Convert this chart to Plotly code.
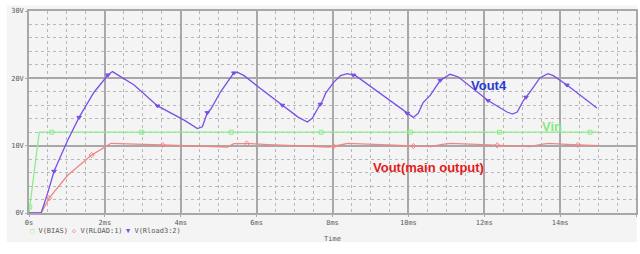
import numpy as np
import plotly.graph_objects as go

# ---------------- data (time in ms, voltage in V) ----------------
vin_t = [0, 0.27, 15.0]
vin_v = [0, 12.0, 12.0]
vin_marker_t = [0.02, 0.6, 2.97, 5.33, 7.7, 10.05, 12.4, 14.79]

vout_t = [0, 0.32, 0.53, 1.02, 1.65, 2.16, 3.03, 3.55, 4.26, 4.9, 5.23, 5.4, 5.84, 6.3,
          7.34, 7.9, 8.2, 8.4, 9.1, 10.1, 10.6, 10.85, 11.1, 11.8, 12.7, 13.2, 13.5,
          13.7, 14.3, 15.0]
vout_v = [0, 0, 2.2, 5.6, 8.6, 10.35, 10.2, 10.1, 10.0, 9.85, 9.8, 10.3, 10.3, 10.15,
          9.95, 9.8, 10.1, 10.35, 10.2, 9.95, 9.85, 10.15, 10.35, 10.2, 9.95, 9.85, 10.2,
          10.35, 10.15, 10.0]
vout_marker_t = [0.53, 1.65, 3.52, 5.74, 8.03, 10.13, 12.34, 14.47]

vout4_t = [0, 0.32, 0.5, 0.66, 1.02, 1.32, 1.71, 2.08, 2.2, 2.42, 2.77, 3.39, 4.09,
           4.44, 4.57, 4.70, 4.79, 5.05, 5.27, 5.4, 5.49, 5.67, 6.1, 6.68, 7.1, 7.34,
           7.47, 7.63, 7.74, 7.82, 8.03, 8.21, 8.39, 8.61, 9.97, 10.13, 10.26, 10.39,
           10.58, 10.84, 11.1, 11.32, 12.1, 12.6, 12.74, 12.87, 13.03, 13.2, 13.47,
           13.68, 13.82, 14.18, 14.97]
vout4_v = [0, 0, 3.1, 6.2, 10.8, 14.2, 17.9, 20.5, 21.0, 20.2, 19.0, 15.9, 13.8,
           12.55, 12.8, 14.9, 15.4, 18.0, 19.85, 20.8, 20.9, 20.4, 18.5, 16.0, 14.2, 13.5,
           14.1, 15.7, 16.7, 17.8, 19.4, 20.4, 20.7, 20.4, 14.8, 14.2, 14.8, 16.4,
           17.5, 19.7, 20.6, 20.2, 16.7, 15.0, 14.7, 15.0, 16.7, 17.9, 20.1,
           20.7, 20.4, 19.0, 15.6]
vout4_marker_t = [0.66, 1.32, 2.08, 3.39, 4.70, 5.40, 6.68, 7.68, 8.55, 9.97, 10.84,
                  12.1, 13.1, 14.18]

x_tickvals = [0, 2, 4, 6, 8, 10, 12, 14, 16]
x_ticktext = ["0s", "2ms", "4ms", "6ms", "8ms", "10ms", "12ms", "14ms", "16ms"]
y_tickvals = [0, 10, 20, 30]
y_ticktext = ["0V", "10V", "20V", "30V"]

legend_names = ["V(BIAS)", "V(RLOAD:1)", "V(Rload3:2)"]
legend_symbols = ["\u25a1", "\u25c7", "\u25bc"]

# ---------------- styling ----------------
W, H = 640, 254
L, R, T, B = 29.2, 636.2, 10.5, 213.0
GREEN = "#8fec8f"
RED = "#ef8686"
PURPLE = "#7a4fe6"
MAJOR = "#a8a8a8"
MINOR = "#b8b8b8"
BG = "#f4f4f4"
TICKFONT = dict(family="DejaVu Sans Mono", size=7, color="#5a5a5a")


def px(x):
    return (x - L) / (R - L)


def py(y):
    return (B - y) / (B - T)


fig = go.Figure()

series = [
    (vin_t, vin_v, vin_marker_t, GREEN, "square-open", 4),
    (vout_t, vout_v, vout_marker_t, RED, "diamond-open", 4),
    (vout4_t, vout4_v, vout4_marker_t, PURPLE, "triangle-down", 4),
]
for (t, v, mt, col, sym, ms) in series:
    fig.add_trace(go.Scatter(x=t, y=v, mode="lines", line=dict(color=col, width=1.3),
                             showlegend=False, hoverinfo="skip"))
for (t, v, mt, col, sym, ms) in series:
    fig.add_trace(go.Scatter(x=mt, y=np.interp(mt, t, v), mode="markers",
                             marker=dict(symbol=sym, size=ms, color=col,
                                         line=dict(color=col, width=1)),
                             showlegend=False, hoverinfo="skip"))

axis_common = dict(
    showline=True, linecolor=MAJOR, linewidth=1.5, mirror=True,
    showgrid=True, gridcolor=MAJOR, gridwidth=1.5,
    zeroline=False, ticks="outside", ticklen=2, tickcolor=MAJOR,
    tickfont=TICKFONT, fixedrange=True,
)

fig.update_xaxes(range=[0, 16], tickvals=x_tickvals, ticktext=x_ticktext,
                 minor=dict(dtick=0.5, showgrid=True, gridcolor=MINOR, griddash="dot",
                            gridwidth=1, ticks=""),
                 **axis_common)
fig.update_yaxes(range=[0, 30], tickvals=y_tickvals, ticktext=y_ticktext,
                 minor=dict(dtick=2, showgrid=True, gridcolor=MINOR, griddash="dot",
                            gridwidth=1, ticks=""),
                 **axis_common)

# gray panel behind
fig.add_shape(type="rect", xref="paper", yref="paper", layer="below",
              x0=px(7), x1=px(637), y0=py(242), y1=py(5),
              fillcolor=BG, line=dict(width=0))

annotations = []
# in-plot labels
annotations.append(dict(x=12.12, y=19.0, xref="x", yref="y", text="<b>Vout4</b>",
                        showarrow=False, font=dict(family="Arial", size=13, color="#2a3bd0")))
annotations.append(dict(x=13.78, y=12.8, xref="x", yref="y", text="<b>Vin</b>",
                        showarrow=False, font=dict(family="Arial", size=13, color="#86e886")))
annotations.append(dict(x=10.52, y=6.7, xref="x", yref="y", text="<b>Vout(main output)</b>",
                        showarrow=False, font=dict(family="Arial", size=13, color="#e31b1b")))
# axis title
annotations.append(dict(x=0.5, y=py(239), xref="paper", yref="paper", text="Time",
                        showarrow=False, font=TICKFONT, yanchor="middle", borderpad=0))
# legend (symbol + name in one text)
sym_x = [29.5, 71.0, 125.5]
cols = [GREEN, RED, PURPLE]
for i in range(3):
    txt = ("<span style='color:%s'>%s</span> %s"
           % (cols[i], legend_symbols[i], legend_names[i]))
    annotations.append(dict(x=px(sym_x[i]), y=py(231.5), xref="paper", yref="paper",
                            text=txt, showarrow=False, xanchor="left",
                            yanchor="middle", borderpad=0, font=TICKFONT))

fig.update_layout(
    width=W, height=H,
    margin=dict(l=L, r=W - R, t=T, b=H - B, pad=0),
    paper_bgcolor="white", plot_bgcolor=BG,
    showlegend=False,
    annotations=annotations,
)

fig.write_html("out.html")
